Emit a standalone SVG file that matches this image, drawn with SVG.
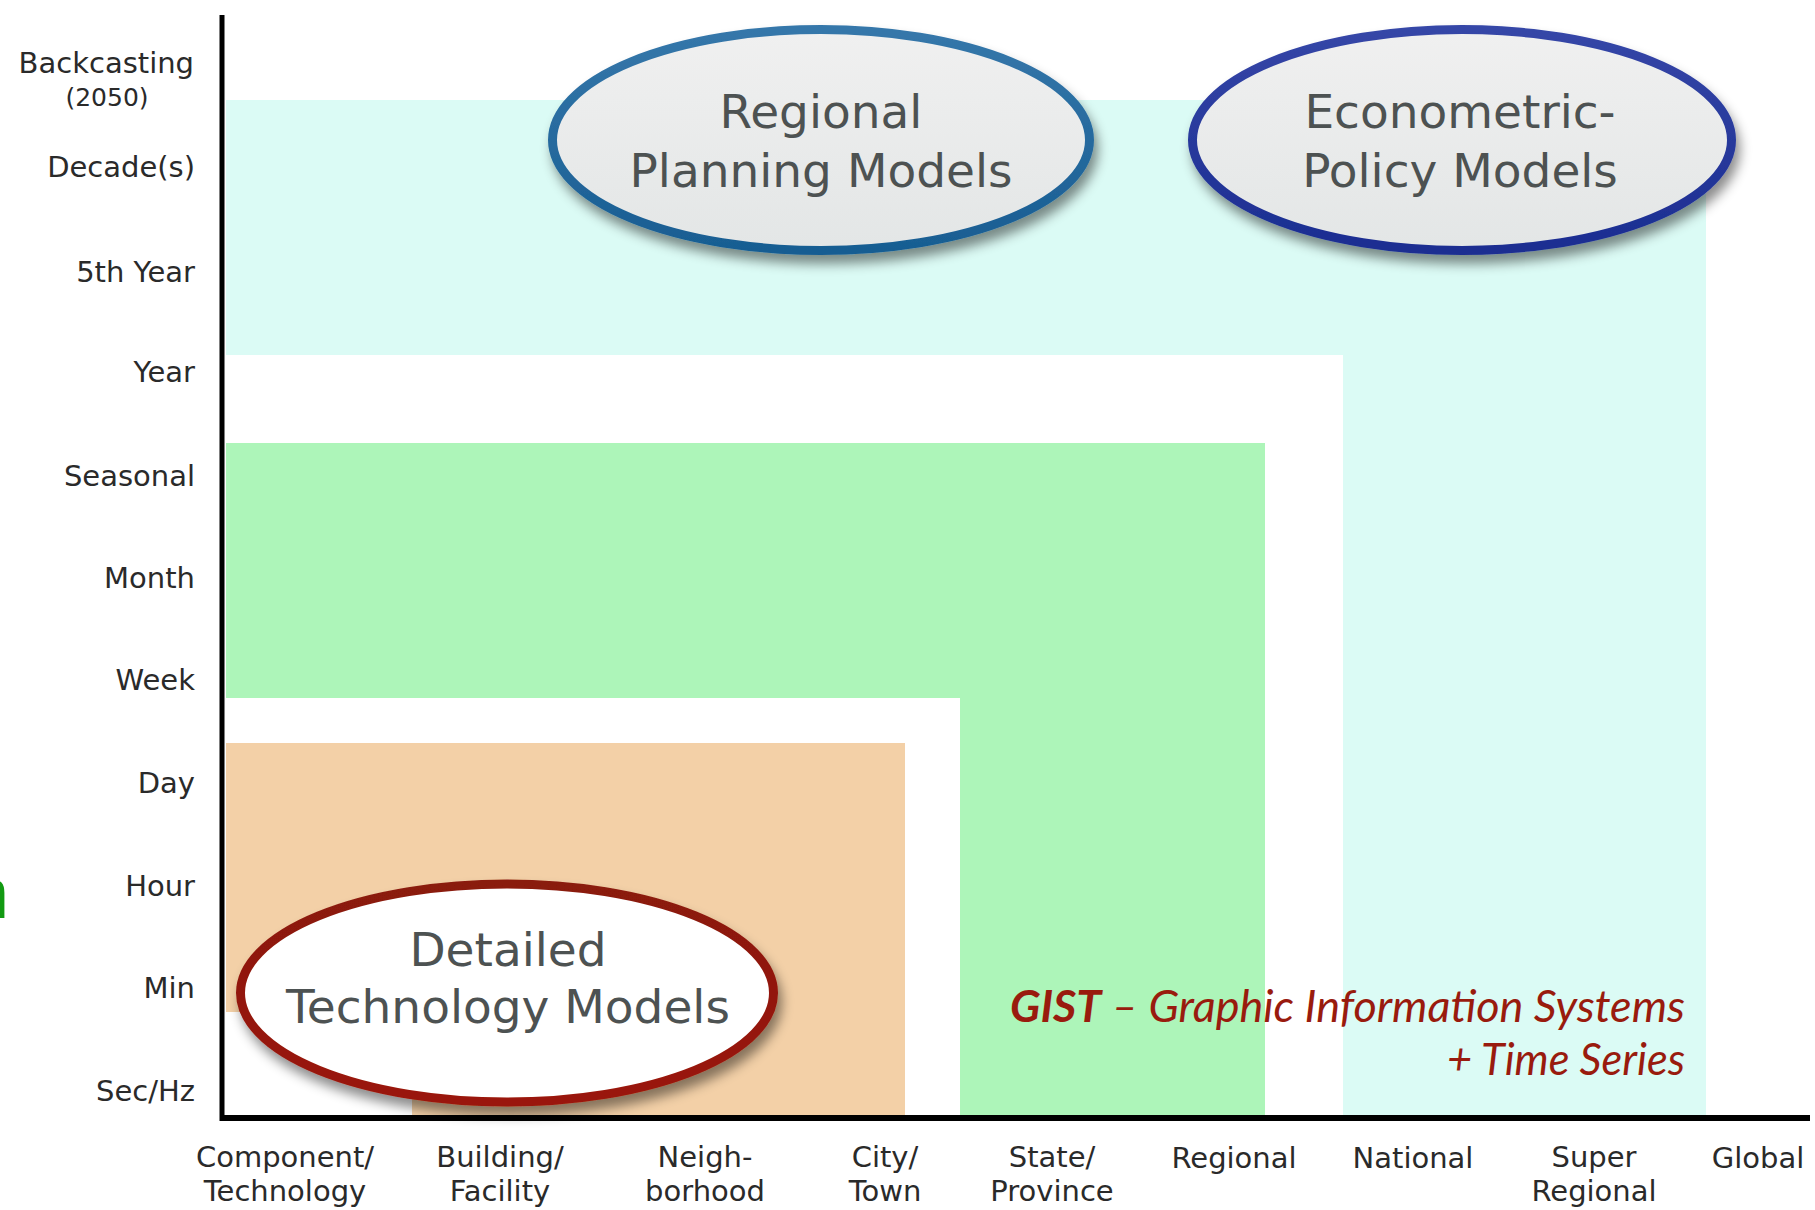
<svg xmlns="http://www.w3.org/2000/svg" width="1815" height="1210" viewBox="0 0 1815 1210">
  <defs>
    <style>
      .ylab { font-family: "DejaVu Sans", "Liberation Sans", sans-serif; font-size: 29px; fill: #2a2a2a; text-anchor: end; }
      .xlab { font-family: "DejaVu Sans", "Liberation Sans", sans-serif; font-size: 29px; fill: #2a2a2a; text-anchor: middle; }
      .etext { font-family: "DejaVu Sans", "Liberation Sans", sans-serif; font-size: 47px; fill: #4d5252; text-anchor: middle; }
      .gist { font-family: Lato, "Liberation Sans", sans-serif; font-style: italic; font-size: 44px; fill: #991b0e; }
      .axis { stroke: #000; fill: none; }
    </style>
    <filter id="shadow" x="-20%" y="-20%" width="140%" height="150%">
      <feDropShadow dx="4" dy="9" stdDeviation="6" flood-color="#000" flood-opacity="0.45"/>
    </filter>
    <linearGradient id="fillGray" x1="0" y1="0" x2="0" y2="1">
      <stop offset="0" stop-color="#f0f0f0"/>
      <stop offset="1" stop-color="#e3e6e6"/>
    </linearGradient>
    <linearGradient id="strokeTeal" x1="0" y1="0" x2="0" y2="1">
      <stop offset="0" stop-color="#3577aa"/>
      <stop offset="1" stop-color="#185d92"/>
    </linearGradient>
    <linearGradient id="strokeNavy" x1="0" y1="0" x2="0" y2="1">
      <stop offset="0" stop-color="#3546a7"/>
      <stop offset="1" stop-color="#1b2d91"/>
    </linearGradient>
    <linearGradient id="strokeRed" x1="0" y1="0" x2="0" y2="1">
      <stop offset="0" stop-color="#8a1a0e"/>
      <stop offset="1" stop-color="#9a1708"/>
    </linearGradient>
  </defs>

  <rect x="0" y="0" width="1815" height="1210" fill="#ffffff"/>

  <g id="bands">
    <rect x="226" y="100" width="1480" height="1018" fill="#dbfbf5"/>
    <rect x="226" y="355" width="1117" height="763" fill="#ffffff"/>
    <rect x="226" y="443" width="1039" height="675" fill="#adf5b9"/>
    <rect x="226" y="698" width="734" height="420" fill="#ffffff"/>
    <rect x="226" y="743" width="679" height="375" fill="#f3d0a7"/>
    <rect x="226" y="1012" width="186" height="106" fill="#ffffff"/>
  </g>

  <text x="-31" y="918" font-family="Liberation Sans, sans-serif" font-size="72" fill="#129a12">n</text>

  <g id="axes">
    <line class="axis" x1="222" y1="15" x2="222" y2="1121" stroke-width="5"/>
    <line class="axis" x1="220" y1="1118" x2="1810" y2="1118" stroke-width="6"/>
  </g>

  <g id="y-labels">
    <text class="ylab" x="194" y="73">Backcasting</text>
    <text class="ylab" x="107" y="106" style="text-anchor: middle; font-size: 25px;">(2050)</text>
    <text class="ylab" x="195" y="177">Decade(s)</text>
    <text class="ylab" x="195" y="282">5th Year</text>
    <text class="ylab" x="195" y="382">Year</text>
    <text class="ylab" x="195" y="486">Seasonal</text>
    <text class="ylab" x="195" y="588">Month</text>
    <text class="ylab" x="195" y="690">Week</text>
    <text class="ylab" x="195" y="793">Day</text>
    <text class="ylab" x="195" y="896">Hour</text>
    <text class="ylab" x="195" y="998">Min</text>
    <text class="ylab" x="195" y="1101">Sec/Hz</text>
  </g>

  <g id="x-labels">
    <text class="xlab" x="285" y="1167">Component/</text>
    <text class="xlab" x="285" y="1201">Technology</text>
    <text class="xlab" x="500" y="1167">Building/</text>
    <text class="xlab" x="500" y="1201">Facility</text>
    <text class="xlab" x="705" y="1167">Neigh-</text>
    <text class="xlab" x="705" y="1201">borhood</text>
    <text class="xlab" x="885" y="1167">City/</text>
    <text class="xlab" x="885" y="1201">Town</text>
    <text class="xlab" x="1052" y="1167">State/</text>
    <text class="xlab" x="1052" y="1201">Province</text>
    <text class="xlab" x="1234" y="1168">Regional</text>
    <text class="xlab" x="1413" y="1168">National</text>
    <text class="xlab" x="1594" y="1167">Super</text>
    <text class="xlab" x="1594" y="1201">Regional</text>
    <text class="xlab" x="1758" y="1168">Global</text>
  </g>

  <g id="regional-planning-models">
    <ellipse cx="821" cy="140" rx="268.5" ry="110.5" fill="url(#fillGray)" stroke="url(#strokeTeal)" stroke-width="9" filter="url(#shadow)"/>
    <text class="etext" x="821" y="128">Regional</text>
    <text class="etext" x="821" y="187">Planning Models</text>
  </g>

  <g id="econometric-policy-models">
    <ellipse cx="1462" cy="140" rx="269.5" ry="110.5" fill="url(#fillGray)" stroke="url(#strokeNavy)" stroke-width="9" filter="url(#shadow)"/>
    <text class="etext" x="1460" y="128">Econometric-</text>
    <text class="etext" x="1460" y="187">Policy Models</text>
  </g>

  <g id="detailed-technology-models">
    <ellipse cx="507" cy="993" rx="266.5" ry="109" fill="#ffffff" stroke="url(#strokeRed)" stroke-width="9" filter="url(#shadow)"/>
    <text class="etext" x="508" y="966">Detailed</text>
    <text class="etext" x="508" y="1023">Technology Models</text>
  </g>

  <g id="gist-note">
    <text class="gist" x="1010" y="1022" textLength="675" lengthAdjust="spacingAndGlyphs"><tspan font-weight="bold">GIST</tspan> – Graphic Information Systems</text>
    <text class="gist" x="1447" y="1075" textLength="238" lengthAdjust="spacingAndGlyphs">+ Time Series</text>
  </g>
</svg>
